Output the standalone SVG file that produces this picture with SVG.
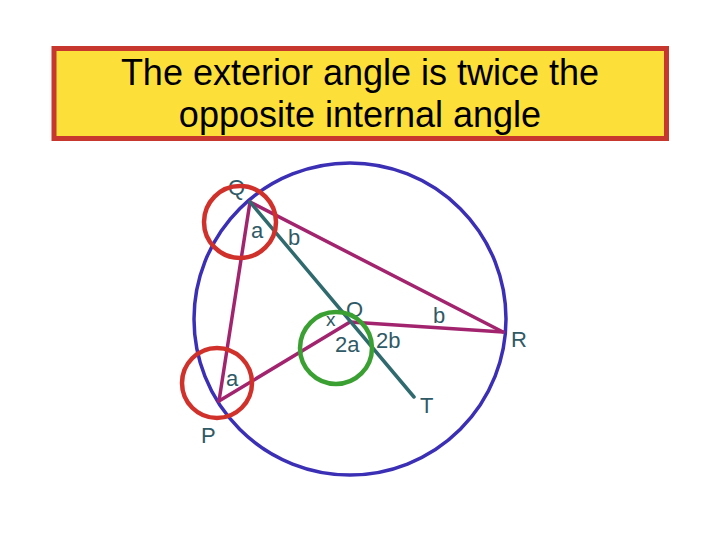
<svg xmlns="http://www.w3.org/2000/svg" width="720" height="540" viewBox="0 0 720 540">
<style>
.title{font-family:"Liberation Sans",Arial,sans-serif;font-size:36px;fill:#000;text-anchor:middle}
.lbl{font-family:"Liberation Sans",Arial,sans-serif;font-size:22px;fill:#2f5a66}
.mag{stroke:#a3246e;stroke-width:3.5;fill:none;stroke-linecap:round}
.teal{stroke:#2f6b6e;stroke-width:3.5;fill:none;stroke-linecap:round}
.ring{fill:none;stroke-width:4.5}
</style>
<rect width="720" height="540" fill="#fff"/>
<g id="title">
<rect x="54" y="48.5" width="612.5" height="90" fill="#fddf3a" stroke="#c8372d" stroke-width="5"/>
<text class="title" x="360" y="85">The exterior angle is twice the</text>
<text class="title" x="360" y="127">opposite internal angle</text>
</g>
<g id="circle">
<circle cx="350" cy="319" r="156" fill="none" stroke="#3b2fb5" stroke-width="3.5"/>
</g>
<g id="connectors">
<line class="mag" x1="250" y1="202" x2="219" y2="401"/>
<line class="mag" x1="250" y1="202" x2="503" y2="332"/>
<line class="mag" x1="350" y1="322" x2="219" y2="401"/>
<line class="mag" x1="350" y1="322" x2="503" y2="332"/>
<line class="teal" x1="250" y1="202" x2="414" y2="397"/>
</g>
<g id="labels">
<text class="lbl" x="228" y="195">Q</text>
<text class="lbl" x="251" y="238">a</text>
<text class="lbl" x="288" y="245">b</text>
<text class="lbl" x="346" y="317">O</text>
<text class="lbl" x="326" y="326" style="font-size:19px">x</text>
<text class="lbl" x="335" y="352">2a</text>
<text class="lbl" x="376" y="348">2b</text>
<text class="lbl" x="433" y="323">b</text>
<text class="lbl" x="511" y="347">R</text>
<text class="lbl" x="420" y="413">T</text>
<text class="lbl" x="226" y="386">a</text>
<text class="lbl" x="201" y="443">P</text>
</g>
<g id="highlight-Q"><circle class="ring" cx="240" cy="222" r="36" stroke="#d0312b"/></g>
<g id="highlight-P"><circle class="ring" cx="217" cy="383" r="35" stroke="#d0312b"/></g>
<g id="highlight-O"><circle class="ring" cx="336" cy="348" r="36" stroke="#3aa032"/></g>
</svg>
